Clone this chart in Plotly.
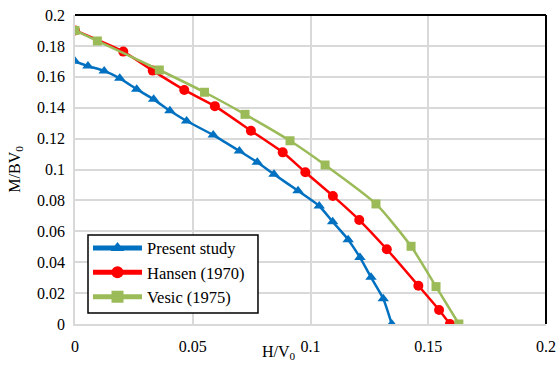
import plotly.graph_objects as go

# Present study
present_x = [0.0, 0.0055, 0.0124, 0.019, 0.0262, 0.0334, 0.0403, 0.0474, 0.0587,
             0.0698, 0.0774, 0.0845, 0.0947, 0.1037, 0.1094, 0.116, 0.121, 0.1257,
             0.1309, 0.1345]
present_y = [0.170, 0.167, 0.1638, 0.159, 0.152, 0.1454, 0.138, 0.1314, 0.1223,
             0.112, 0.1047, 0.0969, 0.0862, 0.0764, 0.0662, 0.0546, 0.0431, 0.0302,
             0.0164, 0.0]

# Hansen (1970)
hansen_x = [0.0, 0.0205, 0.033, 0.0464, 0.0594, 0.0747, 0.0882, 0.0978, 0.1095,
            0.1207, 0.1324, 0.1458, 0.1546, 0.1592]
hansen_y = [0.190, 0.1763, 0.164, 0.1515, 0.1410, 0.1251, 0.1111, 0.0982, 0.0829,
            0.0673, 0.0484, 0.0248, 0.0091, 0.0]

# Vesic (1975)
vesic_x = [0.0, 0.0095, 0.0358, 0.055, 0.0722, 0.0913, 0.1062, 0.1278, 0.1427,
           0.1533, 0.163]
vesic_y = [0.190, 0.1832, 0.1644, 0.150, 0.1357, 0.1186, 0.1029, 0.0777, 0.0503,
           0.0242, 0.0]

x_ticks = [0, 0.05, 0.1, 0.15, 0.2]
x_tick_labels = ["0", "0.05", "0.1", "0.15", "0.2"]
y_ticks = [0, 0.02, 0.04, 0.06, 0.08, 0.1, 0.12, 0.14, 0.16, 0.18, 0.2]
y_tick_labels = ["0", "0.02", "0.04", "0.06", "0.08", "0.1", "0.12", "0.14",
                 "0.16", "0.18", "0.2"]

FONT = "Liberation Serif"

fig = go.Figure()
series = [
    ("Present study", present_x, present_y, "#0070C0", "triangle-up", 10),
    ("Hansen (1970)", hansen_x, hansen_y, "#FF0000", "circle", 10),
    ("Vesic (1975)", vesic_x, vesic_y, "#9BBB59", "square", 9),
]
for name, xs, ys, color, symbol, size in series:
    fig.add_trace(go.Scatter(
        x=xs, y=ys, name=name, mode="lines+markers",
        line=dict(color=color, width=2.5, shape="spline", smoothing=0.6),
        marker=dict(symbol=symbol, size=size, color=color),
    ))

fig.update_xaxes(
    range=[0, 0.2], tickvals=x_ticks, ticktext=x_tick_labels,
    showgrid=True, gridcolor="#D9D9D9", gridwidth=1.5,
    showline=True, linecolor="#D9D9D9", linewidth=1.5,
    zeroline=False, ticks="", ticklabelstandoff=7, automargin=False,
    tickfont=dict(family=FONT, size=16, color="#000000"),
)
fig.update_yaxes(
    range=[0, 0.2], tickvals=y_ticks, ticktext=y_tick_labels,
    showgrid=True, gridcolor="#D9D9D9", gridwidth=1.5,
    showline=True, linecolor="#D9D9D9", linewidth=1.5,
    zeroline=False, ticks="", ticklabelstandoff=5, automargin=False,
    tickfont=dict(family=FONT, size=16, color="#000000"),
)

# black frame on the top and right edges of the plot area
fig.add_shape(type="line", xref="paper", yref="paper", x0=0, x1=1, y0=1, y1=1,
              line=dict(color="#000000", width=2), layer="above")
fig.add_shape(type="line", xref="paper", yref="paper", x0=1, x1=1, y0=0, y1=1,
              line=dict(color="#000000", width=2), layer="above")

# opaque framed box behind the legend entries
fig.add_shape(type="rect", xref="paper", yref="paper",
              x0=0.0276, x1=0.3885, y0=0.0356, y1=0.288,
              fillcolor="#FFFFFF", line=dict(color="#000000", width=1.5),
              layer="above")

fig.add_annotation(text="H/V<sub>0</sub>", xref="paper", yref="paper",
                   x=0.433, y=-0.093, xanchor="center", yanchor="middle",
                   showarrow=False,
                   font=dict(family=FONT, size=16, color="#000000"))
fig.add_annotation(text="M/BV<sub>0</sub>", xref="paper", yref="paper",
                   x=-0.127, y=0.5, xanchor="center", yanchor="middle",
                   showarrow=False, textangle=-90,
                   font=dict(family=FONT, size=16, color="#000000"))

fig.update_layout(
    width=560, height=365,
    margin=dict(l=75, r=14, t=15, b=41),
    paper_bgcolor="#FFFFFF", plot_bgcolor="#FFFFFF",
    font=dict(family=FONT, size=16, color="#000000"),
    showlegend=True,
    legend=dict(
        x=0.0276, y=0.302, xanchor="left", yanchor="top",
        bgcolor="rgba(0,0,0,0)", borderwidth=0,
        font=dict(family=FONT, size=16.5, color="#000000"),
        tracegroupgap=0, itemsizing="constant", itemwidth=49,
    ),
)

fig.write_html("out.html")
